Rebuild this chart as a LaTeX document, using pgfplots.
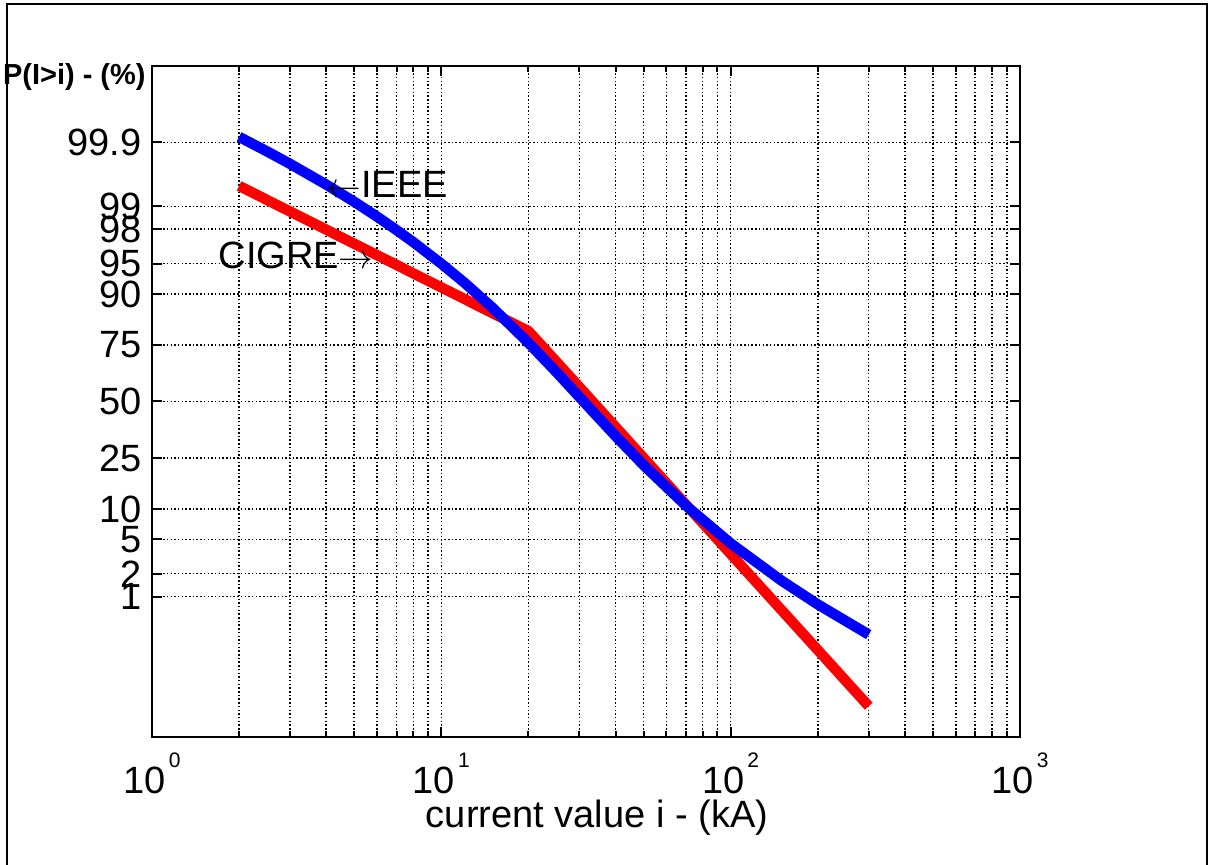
\documentclass[border=0pt]{standalone}
\usepackage{pgfplots}
\pgfplotsset{compat=1.18}
\usepackage{pgfplotstable}
\usepackage{fontspec}
\setmainfont{Liberation Sans}

% decade tick label: 10 with a raised exponent
\newcommand{\tenpow}[1]{10\hspace{1.5pt}\raisebox{13pt}{\fontsize{10.5}{11}\selectfont #1}}

% y values are standard normal quantiles of P(I>i)
\pgfplotstableread{
i     z
2     3.155
2.5   2.981
3     2.833
4     2.586
5     2.381
6     2.203
7     2.044
8     1.900
10    1.643
12    1.418
15    1.120
20    0.699
25    0.349
31    0.000
40   -0.412
50   -0.759
70   -1.240
100  -1.691
150  -2.137
200  -2.419
300  -2.779
}\ieee

\pgfplotstableread{
i     z
2     2.570
3     2.265
5     1.881
10    1.360
15    1.055
20    0.840
30    0.173
50   -0.672
70   -1.228
100  -1.818
150  -2.488
200  -2.963
300  -3.633
}\cigre

\begin{document}
\begin{tikzpicture}
\useasboundingbox (0,0) rectangle (604.5pt,432.5pt);
\draw[line width=1pt] (3.5pt,-5pt) rectangle (603.5pt,430.5pt);
\begin{axis}[
  at={(76pt,64pt)}, anchor=south west,
  scale only axis, width=434pt, height=335.5pt,
  xmode=log, xmin=1, xmax=1000, ymin=-4, ymax=4,
  xtick={1,10,100,1000},
  xticklabels={\tenpow{0},\tenpow{1},\tenpow{2},\tenpow{3}},
  minor xtick={2,3,4,5,6,7,8,9,20,30,40,50,60,70,80,90,200,300,400,500,600,700,800,900},
  ytick={-2.3263,-2.0537,-1.6449,-1.2816,-0.6745,0,0.6745,1.2816,1.6449,2.0537,2.3263,3.0902},
  yticklabels={1,2,5,10,25,50,75,90,95,98,99,99.9},
  xtick pos=both, ytick pos=both,
  tick align=inside,
  major tick length=5pt, minor tick length=3pt,
  tick style={black, line width=1pt},
  axis line style={black, line width=1pt},
  grid=both,
  grid style={black, line width=0.75pt, dash pattern=on 0.75pt off 1.1pt},
  minor grid style={black, line width=0.75pt, dash pattern=on 0.75pt off 1.1pt},
  tick label style={font=\fontsize{19}{22}\selectfont},
  xticklabel style={anchor=base, yshift=-28.5pt},
  yticklabel style={anchor=east, inner sep=0pt, xshift=-5pt},
  xlabel={current value i - (kA)},
  every axis x label/.style={at={(axis description cs:0.5127,0)}, anchor=base, yshift=-45.5pt, font=\fontsize{19}{22}\selectfont},
  ylabel={P(I>i) - (\%)},
  every axis y label/.style={at={(axis description cs:0,1)}, anchor=base east, inner sep=0pt, xshift=-3pt, yshift=-9.5pt, font=\bfseries\fontsize{14.5}{17}\selectfont},
]
\addplot[red, line width=5.2pt] table[x=i, y=z] {\cigre};
\addplot[blue, line width=5.2pt] table[x=i, y=z] {\ieee};
\node[anchor=west, inner sep=0pt, font=\fontsize{19}{22}\selectfont] at (axis cs:4,2.586) {$\leftarrow$IEEE};
\node[anchor=east, inner sep=0pt, font=\fontsize{19}{22}\selectfont] at (axis cs:5.85,1.744) {CIGRE$\rightarrow$};
\end{axis}
\end{tikzpicture}
\end{document}
